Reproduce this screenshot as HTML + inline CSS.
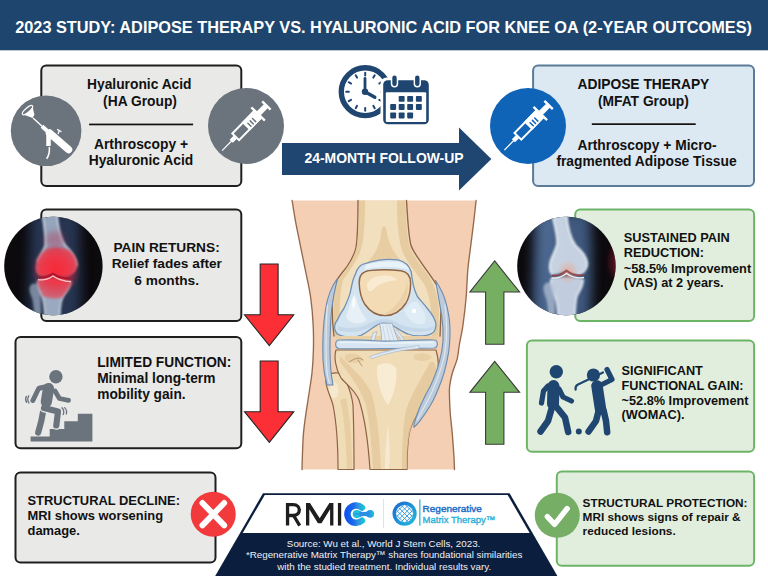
<!DOCTYPE html>
<html><head><meta charset="utf-8">
<style>
html,body{margin:0;padding:0;background:#fff;}
body{width:768px;height:576px;overflow:hidden;position:relative;}
svg{display:block;}
text{font-family:"Liberation Sans",sans-serif;}
.b{font-weight:bold;fill:#111;}
</style></head>
<body>
<svg width="768" height="576" viewBox="0 0 768 576">
<defs>
<clipPath id="cl1"><circle cx="53.4" cy="266" r="49.2"/></clipPath>
<clipPath id="cl2"><circle cx="566.4" cy="266" r="49.2"/></clipPath>
<filter id="bl1" x="-50%" y="-50%" width="200%" height="200%"><feGaussianBlur stdDeviation="1.2"/></filter>
<filter id="bl3" x="-50%" y="-50%" width="200%" height="200%"><feGaussianBlur stdDeviation="3"/></filter>
<filter id="bl6" x="-50%" y="-50%" width="200%" height="200%"><feGaussianBlur stdDeviation="6"/></filter>
<radialGradient id="redglow" cx="0.5" cy="0.5" r="0.5">
<stop offset="0" stop-color="#ff1a2a" stop-opacity="1"/>
<stop offset="0.55" stop-color="#f0283a" stop-opacity="0.75"/>
<stop offset="1" stop-color="#c02040" stop-opacity="0"/>
</radialGradient>
<radialGradient id="orglow" cx="0.5" cy="0.5" r="0.5">
<stop offset="0" stop-color="#f0a080" stop-opacity="0.7"/>
<stop offset="1" stop-color="#f0a080" stop-opacity="0"/>
</radialGradient>
<linearGradient id="cgrad" x1="0" y1="0" x2="1" y2="1">
<stop offset="0" stop-color="#0b57e8"/>
<stop offset="1" stop-color="#3aa6e0"/>
</linearGradient>
<linearGradient id="rgrad" x1="0" y1="0" x2="1" y2="1">
<stop offset="0" stop-color="#1b63d4"/>
<stop offset="1" stop-color="#22c0dc"/>
</linearGradient>
<linearGradient id="cring" gradientUnits="userSpaceOnUse" x1="344" y1="0" x2="368" y2="0">
<stop offset="0" stop-color="#0a4ff0"/><stop offset="0.4" stop-color="#1d6ae8"/><stop offset="0.62" stop-color="#2f9ae0"/><stop offset="0.8" stop-color="#18c0d8"/><stop offset="1" stop-color="#16c6d6"/>
</linearGradient>
<linearGradient id="cdot" x1="0" y1="0" x2="1" y2="0"><stop offset="0" stop-color="#2a80e6"/><stop offset="1" stop-color="#1cc2d8"/></linearGradient>
</defs>
<!-- header -->
<rect x="0" y="0" width="768" height="50.3" fill="#1e456d"/>
<text x="15.2" y="33.3" font-size="16.31" font-weight="bold" fill="#fff">2023 STUDY: ADIPOSE THERAPY VS. HYALURONIC ACID FOR KNEE OA (2-YEAR OUTCOMES)</text>

<!-- top-left box -->
<rect x="41.3" y="65.5" width="200" height="120.4" rx="5" fill="#e9e9e8" stroke="#1f1f1f" stroke-width="2"/>
<g class="b" font-size="13.8" text-anchor="middle">
<text x="139.3" y="89">Hyaluronic Acid</text>
<text x="140" y="105.6">(HA Group)</text>
<text x="141" y="149.4">Arthroscopy +</text>
<text x="141" y="165">Hyaluronic Acid</text>
</g>
<rect x="89.1" y="123.6" width="104" height="1.7" fill="#111"/>

<!-- top-right box -->
<rect x="533.1" y="65.5" width="220.9" height="120.4" rx="5" fill="#dce8f2" stroke="#5b7b99" stroke-width="2"/>
<g class="b" font-size="13.8" text-anchor="middle">
<text x="643.4" y="89">ADIPOSE THERAPY</text>
<text x="643.4" y="105.6">(MFAT Group)</text>
<text x="647" y="149.6">Arthroscopy + Micro-</text>
<text x="646.5" y="165.7">fragmented Adipose Tissue</text>
</g>
<rect x="591.8" y="123.3" width="103.9" height="1.7" fill="#111"/>

<!-- gray circles -->
<circle cx="46.1" cy="130.8" r="35.3" fill="#6b737c"/>
<circle cx="246" cy="126" r="38" fill="#6b737c"/>
<circle cx="528" cy="126" r="38" fill="#0f64b8"/>


<!-- arthroscope -->
<g fill="#fff" stroke="#fff">
<path d="M22.6,114.2 L32.6,118 L34.4,114.8 L32.4,106 Z" stroke="none"/>
<ellipse cx="27.5" cy="110.1" rx="6.6" ry="2.1" transform="rotate(-41 27.5 110.1)" fill="#6b737c" stroke-width="1.2"/>
<line x1="33" y1="118" x2="43.5" y2="127.5" stroke-width="1.4"/>
<line x1="42" y1="126.2" x2="47" y2="130.8" stroke-width="4"/>
<line x1="49.5" y1="133" x2="68.5" y2="149.5" stroke-width="7.5" stroke-linecap="round"/>
<path d="M48.5,133 L48.5,146" stroke-width="4.5" fill="none"/>
<path d="M49.3,147 C49.8,152 48.6,156 46.6,158.8" stroke-width="1.5" fill="none"/>
<path d="M57.2,129.4 L61.5,131.8 M59.3,130.6 L58,134" stroke-width="1.3" fill="none"/>
</g>

<!-- syringe gray -->
<g transform="translate(222.1 150.6) rotate(-45.5)">
<g fill="#fff" stroke="none">
<rect x="0" y="-0.6" width="13.5" height="1.2"/>
<rect x="13" y="-2.2" width="5.6" height="4.4"/>
<rect x="19.4" y="-4.75" width="31" height="9.5" fill="none" stroke="#fff" stroke-width="2"/>
<rect x="33.8" y="-5.75" width="17.4" height="11.5"/>
<rect x="50.2" y="-9.5" width="2.3" height="19"/>
<rect x="52" y="-2.7" width="10.5" height="5.4"/>
<rect x="62" y="-5.9" width="2.4" height="11.8"/>
</g>
<g stroke="#6b737c" stroke-width="1.5" stroke-linecap="round"><line x1="37.6" y1="-0.8" x2="37.6" y2="3.6"/><line x1="40.9" y1="-0.8" x2="40.9" y2="3.6"/><line x1="44.2" y1="-0.8" x2="44.2" y2="3.6"/></g>
</g>
<!-- syringe blue -->
<g transform="translate(504.3 150.1) rotate(-45.5)">
<g fill="#fff" stroke="none">
<rect x="0" y="-0.6" width="13.5" height="1.2"/>
<rect x="13" y="-2.2" width="5.6" height="4.4"/>
<rect x="19.4" y="-4.75" width="31" height="9.5" fill="none" stroke="#fff" stroke-width="2"/>
<rect x="33.8" y="-5.75" width="17.4" height="11.5"/>
<rect x="50.2" y="-9.5" width="2.3" height="19"/>
<rect x="52" y="-2.7" width="10.5" height="5.4"/>
<rect x="62" y="-5.9" width="2.4" height="11.8"/>
</g>
<g stroke="#0f64b8" stroke-width="1.5" stroke-linecap="round"><line x1="37.6" y1="-0.8" x2="37.6" y2="3.6"/><line x1="40.9" y1="-0.8" x2="40.9" y2="3.6"/><line x1="44.2" y1="-0.8" x2="44.2" y2="3.6"/></g>
</g>

<!-- clock -->
<g>
<circle cx="365.2" cy="91.7" r="23.9" fill="none" stroke="#1f4670" stroke-width="5.4"/>
<g stroke="#1f4670" stroke-width="2" stroke-linecap="round">
<g transform="translate(365.2 91.7)">
<line x1="0" y1="-16.3" x2="0" y2="-19"/>
<line x1="0" y1="-16.3" x2="0" y2="-19" transform="rotate(30)"/>
<line x1="0" y1="-16.3" x2="0" y2="-19" transform="rotate(60)"/>
<line x1="0" y1="-16.3" x2="0" y2="-19" transform="rotate(90)"/>
<line x1="0" y1="-16.3" x2="0" y2="-19" transform="rotate(120)"/>
<line x1="0" y1="-16.3" x2="0" y2="-19" transform="rotate(150)"/>
<line x1="0" y1="-16.3" x2="0" y2="-19" transform="rotate(180)"/>
<line x1="0" y1="-16.3" x2="0" y2="-19" transform="rotate(210)"/>
<line x1="0" y1="-16.3" x2="0" y2="-19" transform="rotate(240)"/>
<line x1="0" y1="-16.3" x2="0" y2="-19" transform="rotate(270)"/>
<line x1="0" y1="-16.3" x2="0" y2="-19" transform="rotate(300)"/>
<line x1="0" y1="-16.3" x2="0" y2="-19" transform="rotate(330)"/>
</g>
<line x1="365" y1="91.7" x2="365" y2="78.5" stroke-width="2.8"/>
<line x1="365" y1="91.7" x2="374.8" y2="97.3" stroke-width="3.4"/>
</g>
<circle cx="365" cy="91.7" r="3.2" fill="#1f4670"/>
</g>
<!-- calendar -->
<g>
<rect x="380.5" y="77.5" width="51" height="49.5" rx="6" fill="#fff"/>
<rect x="383.2" y="80.2" width="45.6" height="44" rx="4.5" fill="#1f4670"/>
<rect x="385.8" y="92.2" width="40.4" height="29.7" rx="1" fill="#fff"/>
<rect x="390.8" y="73.5" width="7.4" height="14" rx="3.7" fill="#fff"/>
<rect x="413.6" y="73.5" width="7.4" height="14" rx="3.7" fill="#fff"/>
<rect x="392.3" y="75.5" width="4.4" height="10.5" rx="2.2" fill="#1f4670"/>
<rect x="415.1" y="75.5" width="4.4" height="10.5" rx="2.2" fill="#1f4670"/>
<g fill="#1f4670">
<rect x="398.7" y="95.9" width="5.9" height="5.9" rx="0.8"/><rect x="407.2" y="95.9" width="5.9" height="5.9" rx="0.8"/><rect x="415.9" y="95.9" width="5.9" height="5.9" rx="0.8"/>
<rect x="390.2" y="104" width="5.9" height="5.9" rx="0.8"/><rect x="398.7" y="104" width="5.9" height="5.9" rx="0.8"/><rect x="407.2" y="104" width="5.9" height="5.9" rx="0.8"/><rect x="415.9" y="104" width="5.9" height="5.9" rx="0.8"/>
<rect x="390.2" y="112.5" width="5.9" height="5.9" rx="0.8"/><rect x="398.7" y="112.5" width="5.9" height="5.9" rx="0.8"/><rect x="407.2" y="112.5" width="5.9" height="5.9" rx="0.8"/>
</g>
</g>

<!-- follow up arrow -->
<path d="M282,143 L459,143 L459,127.4 L491.4,159 L459,190.4 L459,175 L282,175 Z" fill="#1f4670"/>
<text x="384" y="162.6" font-size="13.95" font-weight="bold" fill="#fff" text-anchor="middle">24-MONTH FOLLOW-UP</text>

<!-- pain box -->
<rect x="41.3" y="209.6" width="200" height="111.5" rx="5" fill="#e9e9e8" stroke="#1f1f1f" stroke-width="2"/>
<g class="b" font-size="13.7" text-anchor="middle">
<text x="166.6" y="252">PAIN RETURNS:</text>
<text x="166.8" y="268.4">Relief fades after</text>
<text x="166.7" y="284.7">6 months.</text>
</g>


<!-- xray left -->
<g clip-path="url(#cl1)">
<rect x="0" y="212" width="110" height="110" fill="#0c0a0d"/>
<path d="M30,212 L79,212 C80,240 82,280 80,322 L28,322 C27,290 31,250 30,212 Z" fill="#33456a" opacity="0.75" filter="url(#bl6)"/>
<g filter="url(#bl1)">
<path d="M42,212 L57,212 C58,228 60,238 66,246 C72,252 77,258 77,266 C76,272 72,275 66,276 C60,276.5 56,274 53,273.5 C49,274 44,276 40,275.5 C36,274 35,268 37,262 C39,256 43,252 45,246 C46,236 44,225 42,212 Z" fill="#a8b8cf" opacity="0.85"/>
<path d="M42,212 C44,225 46,236 45,246 C43,252 39,256 37,262 M57,212 C58,228 60,238 66,246 C72,252 77,258 77,266" fill="none" stroke="#eef4fb" stroke-width="1.6" opacity="0.8"/>
<path d="M38,280 C46,278 60,278 71,281 C71,287 66,292 63,297 C60,303 60,310 60,322 L45,322 C45,310 44,302 42,296 C39,290 37,285 38,280 Z" fill="#aebdd2" opacity="0.85"/>
<path d="M38,280 C37,285 39,290 42,296 C44,302 45,310 45,322 M71,281 C71,287 66,292 63,297 C60,303 60,310 60,322" fill="none" stroke="#eef4fb" stroke-width="1.5" opacity="0.75"/>
<path d="M29.5,290 C29,285 33,282.5 37,284 C40,286 40.5,292 40.5,298 C41,306 41,314 41,322 L34.5,322 C34.5,312 33.5,304 32,298 C30.5,295 29.7,292.5 29.5,290 Z" fill="#9cacc2" opacity="0.7"/>
</g>
<ellipse cx="56" cy="270" rx="25" ry="26" fill="url(#redglow)" opacity="0.85"/>
<path d="M37,262 C39,256 43,252 47,249 C55,247 64,247 70,251 C75,255 77,260 77,266 C76,272 72,275 66,276 C60,276.5 56,274 53,273.5 C49,274 44,276 40,275.5 C36,274 35,268 37,262 Z" fill="#ff2636" opacity="0.6" filter="url(#bl1)"/>
<path d="M38,280 C46,278 60,278 71,281 C71,287 66,292 63,297 C58,299 50,299 43,296 C40,290 37,285 38,280 Z" fill="#ff2636" opacity="0.55" filter="url(#bl1)"/>
<ellipse cx="55" cy="240" rx="10" ry="9" fill="#b82848" opacity="0.35" filter="url(#bl3)"/>
<path d="M39,277 Q46,278.5 53,273.5 Q60,278.5 71,279" fill="none" stroke="#a8102a" stroke-width="1.6" opacity="0.85"/>
<path d="M38,279.6 Q46,281 53,276 Q60,281 71,281.6" fill="none" stroke="#ffd6d6" stroke-width="1.4" opacity="0.9"/>
</g>
<!-- limited box -->
<rect x="15.5" y="337" width="225.8" height="111.3" rx="5" fill="#e9e9e8" stroke="#1f1f1f" stroke-width="2"/>
<g class="b" font-size="13.72">
<text x="97.2" y="367.2">LIMITED FUNCTION:</text>
<text x="97.2" y="382.8">Minimal long-term</text>
<text x="97.2" y="398.8">mobility gain.</text>
</g>


<!-- stairs person -->
<g fill="#6b737c">
<path d="M30.6,441.5 L30.6,436.6 L49.7,436.6 L49.7,429 L64.3,429 L64.3,421.3 L77.8,421.3 L77.8,413.7 L92.4,413.7 L92.4,441.5 Z"/>
<circle cx="55.9" cy="376.8" r="6.7"/>
</g>
<g stroke-linecap="round" stroke-linejoin="round" fill="none">
<path d="M43,412 L41.3,421 L38.2,432.5" stroke="#6b737c" stroke-width="6.2"/>
<path d="M44,408 L58,411.5 L56.3,425.5" stroke="#e9e9e9" stroke-width="8.6"/>
<path d="M47.5,388.5 L46.8,396 L46,402" stroke="#e9e9e9" stroke-width="13.6"/>
<path d="M38.5,388.8 L32.8,400.6" stroke="#6b737c" stroke-width="4.8"/>
<path d="M55,391 L59.4,398.5 L68.5,400.3" stroke="#6b737c" stroke-width="4.8"/>
<path d="M44,408 L58,411.5 L56.3,425.5" stroke="#6b737c" stroke-width="6.2"/>
<path d="M48.5,388.5 L47.3,396 L46.3,402" stroke="#6b737c" stroke-width="11.2"/>
<path d="M40,388 L50,386" stroke="#6b737c" stroke-width="5"/>
<path d="M28.8,395.8 Q26.6,399.4 29,403 M26.4,396.4 Q24.6,399.4 26.6,402.4" stroke="#6b737c" stroke-width="1.3"/>
<path d="M62,407.8 Q64.8,410.8 63.2,414.6 M64.6,407.6 Q67.6,410.6 66.2,414" stroke="#6b737c" stroke-width="1.3"/>
</g>

<!-- structural decline -->
<rect x="15.5" y="472.4" width="200" height="90.1" rx="5" fill="#e9e9e8" stroke="#1f1f1f" stroke-width="2"/>
<g class="b" font-size="12.92">
<text x="27.5" y="504.9">STRUCTURAL DECLINE:</text>
<text x="27.5" y="520.4">MRI shows worsening</text>
<text x="27.5" y="535">damage.</text>
</g>
<circle cx="213.25" cy="514.2" r="22.5" fill="#f23a3c"/>
<path d="M202.4,503 L224.2,525.4 M224.2,503 L202.4,525.4" stroke="#fff" stroke-width="5.9" stroke-linecap="round"/>

<!-- sustained -->
<rect x="575.2" y="209.6" width="178.9" height="111.5" rx="5" fill="#e2eedd" stroke="#6cb466" stroke-width="2"/>
<g class="b" font-size="12.78">
<text x="623.8" y="242.3">SUSTAINED PAIN</text>
<text x="623.8" y="257">REDUCTION:</text>
<text x="623.8" y="272.8">~58.5% Improvement</text>
<text x="623.8" y="287.4">(VAS) at 2 years.</text>
</g>


<!-- xray right -->
<g clip-path="url(#cl2)">
<rect x="515" y="212" width="110" height="110" fill="#0c0a0d"/>
<path d="M534,212 L590,212 C592,240 593,280 590,322 L533,322 C531,290 535,250 534,212 Z" fill="#4a6894" opacity="0.85" filter="url(#bl6)"/>
<path d="M540,212 L556,212 C555,240 552,270 550,322 L540,322 Z" fill="#5f7fa8" opacity="0.5" filter="url(#bl6)"/>
<ellipse cx="616" cy="262" rx="6" ry="15" fill="#6a1428" opacity="0.8" filter="url(#bl3)"/>
<g filter="url(#bl1)">
<path d="M551.5,212 L566.5,212 C567.5,228 570,238 576,246 C582,251 587,257 587.5,264 C587,270 583,274 577,274.5 C572,274.5 569,272 566.5,270 C563,272 558,275 553,274.5 C549.5,273 549,267 550.5,261 C552.5,254 556,250 557,244 C557.5,234 554,224 551.5,212 Z" fill="#d0dae8" opacity="0.93"/>
<path d="M551.5,212 C554,224 557.5,234 557,244 C556,250 552.5,254 550.5,261 C549,267 549.5,273 553,274.5 M566.5,212 C567.5,228 570,238 576,246 C582,251 587,257 587.5,264 C587,270 583,274 577,274.5" fill="none" stroke="#f6f9fd" stroke-width="1.7" opacity="0.9"/>
<path d="M551,278.5 C560,276.5 574,276.5 583,279 C584,285 580,290 577,296 C575,303 575,310 575,322 L558,322 C558,310 557,302 555,296 C552,290 550,285 551,278.5 Z" fill="#ccd7e6" opacity="0.92"/>
<path d="M551,278.5 C550,285 552,290 555,296 C557,302 558,310 558,322 M583,279 C584,285 580,290 577,296 C575,303 575,310 575,322" fill="none" stroke="#f6f9fd" stroke-width="1.6" opacity="0.85"/>
<path d="M543.5,289 C543,284 547,281.5 551,283 C554,285 554.5,291 554.5,297 C555,305 555,313 555,322 L548.5,322 C548.5,312 547.5,304 546,298 C544.5,295 543.7,292 543.5,289 Z" fill="#b0bed2" opacity="0.75"/>
</g>
<ellipse cx="568" cy="272" rx="11" ry="12" fill="url(#orglow)"/>
<path d="M552,275.5 Q559,276.5 566.5,270.5 Q574,276.5 584,275" fill="none" stroke="#9a3a3a" stroke-width="1.6" opacity="0.95"/>
<path d="M551.5,278 Q559,279 566.5,273.5 Q574,279 584,277.5" fill="none" stroke="#ffffff" stroke-width="1.3" opacity="0.9"/>
</g>
<!-- functional -->
<rect x="526.9" y="340.6" width="227.2" height="111.2" rx="5" fill="#e2eedd" stroke="#6cb466" stroke-width="2"/>
<g class="b" font-size="12.72">
<text x="621.6" y="374.8">SIGNIFICANT</text>
<text x="621.6" y="389.6">FUNCTIONAL GAIN:</text>
<text x="621.6" y="404.7">~52.8% Improvement</text>
<text x="621.6" y="419.4">(WOMAC).</text>
</g>

<!-- walker & golfer -->
<g fill="#1f4670">
<circle cx="556.3" cy="371.8" r="6.7"/>
<circle cx="593.4" cy="375" r="6.6"/>
<circle cx="578.8" cy="431.5" r="3"/>
</g>
<g stroke="#1f4670" stroke-linecap="round" stroke-linejoin="round" fill="none">
<path d="M553.5,386 L553,404" stroke-width="12"/>
<path d="M548,386 L543.5,391 L541.5,403" stroke-width="5.2"/>
<path d="M559,389 L563,397 L571.5,401" stroke-width="5.2"/>
<path d="M551.5,409 L548,421 L540.5,431.5" stroke-width="6.5"/>
<path d="M556.5,407 L565,417.5 L568.2,432" stroke-width="6.5"/>
<path d="M597,386 L600.5,409" stroke-width="11.5"/>
<path d="M601,385 L612,379.5 L607,369.5" stroke-width="5.2"/>
<path d="M603,372.5 L578,384.5 Q575,386 575.6,389.6" stroke-width="2.2"/>
<path d="M598.8,410 L596,421 L588.6,431.5" stroke-width="6.5"/>
<path d="M603.5,410 L606,421 L607.2,432.2" stroke-width="6.5"/>
</g>

<!-- structural protection -->
<rect x="556.8" y="471.5" width="197.3" height="94.3" rx="5" fill="#e2eedd" stroke="#6cb466" stroke-width="2"/>
<g class="b" font-size="11.8">
<text x="582.6" y="507">STRUCTURAL PROTECTION:</text>
<text x="582.6" y="521.3">MRI shows signs of repair &amp;</text>
<text x="582.6" y="534.9">reduced lesions.</text>
</g>
<circle cx="557.25" cy="515.25" r="22.5" fill="#76ae66"/>
<path d="M547.3,516.6 L554.6,524.4 L567.2,508.5" fill="none" stroke="#fff" stroke-width="5.4" stroke-linecap="round" stroke-linejoin="round"/>

<!-- knee -->
<g id="knee" stroke-linejoin="round" stroke-linecap="round">
<path d="M292.1,200.5 C292.7,204.2 294.2,214.5 295.8,222.8 C297.4,231.2 299.7,242.0 301.4,250.6 C303.1,259.2 304.6,266.3 306.2,274.2 C307.8,282.1 309.5,289.2 310.7,297.8 C311.9,306.4 312.8,316.9 313.2,325.6 C313.6,334.3 313.6,342.1 313.4,350.0 C313.2,357.9 312.9,364.4 312.0,372.8 C311.1,381.2 308.9,393.7 307.9,400.6 C306.9,407.5 306.5,409.0 305.8,414.4 C305.1,419.8 304.1,426.0 303.5,432.9 C302.9,439.8 302.6,449.7 302.4,455.8 C302.1,461.9 302.1,467.2 302.0,469.5 L454.5,469.5 C454.4,467.2 454.3,461.9 453.9,455.8 C453.5,449.7 452.8,439.9 452.2,432.9 C451.6,425.9 450.7,419.4 450.3,414.0 C449.9,408.6 449.7,405.2 449.6,400.6 C449.5,396.1 449.1,391.3 449.6,386.7 C450.1,382.1 451.1,377.4 452.4,372.8 C453.7,368.2 456.0,363.5 457.2,358.9 C458.4,354.3 458.4,350.6 459.3,345.0 C460.2,339.4 461.8,333.5 462.9,325.6 C464.0,317.7 465.3,307.1 466.1,297.8 C466.9,288.5 467.1,277.9 467.8,270.0 C468.5,262.1 469.1,258.5 470.1,250.6 C471.1,242.7 472.6,231.2 473.6,222.8 C474.6,214.5 475.7,204.2 476.1,200.5 Z" fill="#f4cfb3"/>
<path d="M292.1,200.5 C292.7,204.2 294.2,214.5 295.8,222.8 C297.4,231.2 299.7,242.0 301.4,250.6 C303.1,259.2 304.6,266.3 306.2,274.2 C307.8,282.1 309.5,289.2 310.7,297.8 C311.9,306.4 312.8,316.9 313.2,325.6 C313.6,334.3 313.6,342.1 313.4,350.0 C313.2,357.9 312.9,364.4 312.0,372.8 C311.1,381.2 308.9,393.7 307.9,400.6 C306.9,407.5 306.5,409.0 305.8,414.4 C305.1,419.8 304.1,426.0 303.5,432.9 C302.9,439.8 302.6,449.7 302.4,455.8 C302.1,461.9 302.1,467.2 302.0,469.5" fill="none" stroke="#96694d" stroke-width="1.35"/>
<path d="M454.5,469.5 C454.4,467.2 454.3,461.9 453.9,455.8 C453.5,449.7 452.8,439.9 452.2,432.9 C451.6,425.9 450.7,419.4 450.3,414.0 C449.9,408.6 449.7,405.2 449.6,400.6 C449.5,396.1 449.1,391.3 449.6,386.7 C450.1,382.1 451.1,377.4 452.4,372.8 C453.7,368.2 456.0,363.5 457.2,358.9 C458.4,354.3 458.4,350.6 459.3,345.0 C460.2,339.4 461.8,333.5 462.9,325.6 C464.0,317.7 465.3,307.1 466.1,297.8 C466.9,288.5 467.1,277.9 467.8,270.0 C468.5,262.1 469.1,258.5 470.1,250.6 C471.1,242.7 472.6,231.2 473.6,222.8 C474.6,214.5 475.7,204.2 476.1,200.5" fill="none" stroke="#96694d" stroke-width="1.35"/>
<!-- fibula -->
<path d="M326,383 C325,376 330,372 338,373 C345,376 351,390 353,405 C354,430 354,450 354,469.5 L338,469.5 C338,445 337,425 333,405 C330,395 327,390 326,383 Z" fill="#f1dcb8" stroke="#8d6446" stroke-width="1.2"/>
<path d="M340,400 C344,415 346,440 347,469 L352,469 C352,440 350,415 346,398 Z" fill="#e4c79a" opacity="0.7"/>
<ellipse cx="334" cy="390" rx="4.5" ry="8" fill="#f9ecd6" opacity="0.8"/>
<!-- tibia -->
<path d="M336,350 C334,356 335,368 341,378 C348,386 355,390 359,400 C364,415 368,440 370,469.5 L407,469.5 C407,450 408,438 410,430 C413,420 418,412 423,403 C428,394 434,386 437,376 C439,368 439,360 436,350 Z" fill="#f1dcb8" stroke="#8d6446" stroke-width="1.2"/>
<path d="M340,362 C350,375 360,388 366,405 C370,425 372,450 373,469 L381,469 C380,440 377,410 371,392 C364,378 352,368 340,356 Z" fill="#e4c79a" opacity="0.75"/>
<path d="M430,362 C422,378 412,392 406,410 C403,425 402,445 402,469 L407,469 C407,445 409,430 414,420 C420,408 428,396 434,384 C437,376 437,368 434,362 Z" fill="#e4c79a" opacity="0.8"/>
<path d="M345,355 C352,352 360,354 364,360 C358,364 350,364 345,360 Z" fill="#e4c79a" opacity="0.6"/>
<path d="M414,355 C420,352 428,353 432,357 C428,362 420,362 414,359 Z" fill="#e4c79a" opacity="0.6"/>
<path d="M377,366 C383,362 392,362 396,368 C398,380 394,395 388,405 C382,398 376,380 377,366 Z" fill="#f9ecd6" opacity="0.95"/>
<path d="M388,425 C390,440 390,460 389,469 L385,469 C385,455 386,440 388,425 Z" fill="#f9ecd6" opacity="0.8"/>
<path d="M349,362 C355,359 358,356 363,360 M358,360 L362,366" fill="none" stroke="#a88660" stroke-width="0.8"/>
<!-- femur -->
<path d="M358,200.5 L406.5,200.5 C407.5,215 408,232 410.6,244 C412,250 416,255 421.7,263.3 C427,271 432,277 436.9,285.6 C440,292 441,300 441,310 L440,336 L334,336 C332,320 332,300 333.2,287 C336,280 340,275 346.4,267.5 C350,262 353.3,258 356,248 C357.5,238 358,225 358,200.5 Z" fill="#f2dfbe"/>
<path d="M358,200.5 C358,225 357.5,238 356,248 C353.3,258 350,262 346.4,267.5 C340,275 336,280 333.2,287 C332,300 332,320 334,336" fill="none" stroke="#8d6446" stroke-width="1.35"/>
<path d="M406.5,200.5 C407.5,215 408,232 410.6,244 C412,250 416,255 421.7,263.3 C427,271 432,277 436.9,285.6 C440,292 441,300 441,310 L440,336" fill="none" stroke="#8d6446" stroke-width="1.35"/>
<path d="M359,200.5 L365,200.5 C365,225 364,242 360,252 C356,262 350,270 343,280 C340,290 339,310 340,336 L335,336 C333,315 333,295 334,287 C338,280 344,272 348,266 C353,259 356,252 357.5,242 C358.5,230 359,215 359,200.5 Z" fill="#e4c79a" opacity="0.8"/>
<path d="M397,200.5 L405.5,200.5 C406,220 407,235 409.5,246 C413,256 420,264 428,275 C434,284 438,295 439,310 L438.5,336 L432,336 C432,310 430,295 424,284 C416,272 406,262 402,250 C398,238 397,220 397,200.5 Z" fill="#e4c79a" opacity="0.8"/>
<path d="M381.5,230 C380.5,242 377,252 368,262 L402,262 C393,252 388,242 386.5,230 C385.8,225 382.2,225 381.5,230 Z" fill="#e4c79a" opacity="0.75"/>
<!-- cartilage -->
<path d="M398,259.9 C405,261.5 409,265 411.25,272 C412,280 413,288 417.5,296.7 C421,301 424,304 427,308 C432,314 436,320 436,325 C436,331 432,334.5 426.6,335.3 C420,336.5 414,336.5 408,334 C402,332 396,327 390.6,324.4 C387,322.5 381,322.5 378,324.4 C373,327 368,332 361,335.3 C356,337 350,337.5 346.9,336.9 C341,336 337,334.5 336,332.2 C334,329 334,324 337.5,319.7 C340,314 342,311 343.75,308.75 C347,302 349.5,297 350.8,290 C352,284 353,278 355.4,274.4 C357,268 361,264 365.8,263.3 C376,260 388,258.5 398,259.9 Z" fill="#d3e3f0" stroke="#7392b4" stroke-width="1.35"/>
<path d="M338,330 C348,334 362,332 374,326 C380,323 388,323 394,326 C404,331 420,335 434,329 L435,326 C422,331 406,328 396,322 C389,318 380,318 372,322 C362,328 348,330 338,326 Z" fill="#b9cfe3" opacity="0.55"/>
<path d="M346,318 C349,306 352,298 355,294 C357,302 360,312 367,320 C360,325 352,325 346,318 Z" fill="#eef4fa" opacity="0.75"/>
<path d="M353.5,296 C352,300 351.5,305 353,309 C355.5,306 356,300 353.5,296 Z" fill="#fafcfe"/>
<path d="M404,311 C410,302 414,300 418,303 C424,310 428,318 424,324 C416,326 408,320 404,311 Z" fill="#e6eff8" opacity="0.7"/>
<circle cx="414" cy="311" r="2.2" fill="#fbfdff"/>
<path d="M366,264.5 C376,262 390,261 398,262 C404,263 408,266 409.5,270 C404,268 396,267 386,267 C376,267 370,268 364,270 Z" fill="#eef5fb" opacity="0.8"/>
<!-- patella -->
<path d="M359.2,283 C359,276 362.5,271.5 369,270.6 C378,269.6 392,269.6 401,270.8 C407,271.8 410.6,276 410.6,283 C410.6,290 409.5,297 406,303 C401.5,310 394,315.6 385,315.6 C376.5,315.6 369.5,311 365,304.5 C361,298.5 359.4,291 359.2,283 Z" fill="#f2dbb5" stroke="#8d6446" stroke-width="1.45"/>
<path d="M367,285 C368,279 375,275.5 384,275.5 C391,275.5 396,277.5 397,280.5 C389,280.5 379,283 373,290 C370,293 367,291 367,285 Z" fill="#f9ebd4" opacity="0.95"/>
<path d="M401,298 C405,292 407,286 406.5,280 C409,290 407,300 401,307 C395,313 389,314.5 384,313.5 C391,311 397,305 401,298 Z" fill="#e4c79a" opacity="0.55"/>
<!-- tan gap strip -->
<path d="M336,336 L438,336 L438,341 L336,341 Z" fill="#e8cfa6"/>
<!-- cruciate -->
<path d="M373,333 C372,337 371,340 370,342 L374,342 C375,338 376,335 377,332 Z" fill="#dfe9f3" stroke="#94abc3" stroke-width="0.6"/>
<path d="M395,332 C398,335 400,338 402,342 L405,342 C403,337 400,334 397,330 Z" fill="#dfe9f3" stroke="#94abc3" stroke-width="0.6"/>
<path d="M379.7,323.6 C381,330 382,337 381,345 L400,345 C397,338 394,330 392.2,323.6 Z" fill="#e2ebf4" stroke="#94abc3" stroke-width="0.8"/>
<path d="M383,326 L386,344 M386.5,325 L390.5,344 M389.5,325 L395,344" stroke="#b7c9db" stroke-width="0.6" fill="none"/>
<!-- meniscus -->
<path d="M339,340 C352,339.5 366,340 380,341 C396,341.5 416,339.5 434,340 C438.5,340.5 438.5,347.5 434,348 C416,348.5 398,348 384,348.5 C368,349 352,349 339,348.6 C334.5,348 334.5,340.5 339,340 Z" fill="#d6e5f1" stroke="#7392b4" stroke-width="1.2"/>
<path d="M340,342.5 C360,342 380,343.5 400,343 C415,342.5 425,342.3 433,342.5" fill="none" stroke="#eef5fb" stroke-width="1.4" opacity="0.9"/>
<path d="M370.3,356.4 C382,352 396,348 418.75,345.5 L419,348.5 C400,350 386,353.5 372,358.5 Z" fill="#e6eef6" stroke="#9ab0c6" stroke-width="0.6"/>
<path d="M376,355 C388,351 400,349 415,347.2" fill="none" stroke="#b7c9db" stroke-width="0.5"/>
<!-- collateral ligaments -->
<path d="M337.5,278.5 C331,287 327.5,296 325.4,310 C323,325 322.5,345 323,360 C323.5,370 325,378 327,385 L333,385 C331,375 330,365 330,350 C330,335 330.5,320 331.8,308 C333,298 335,288 337.5,278.5 Z" fill="#bccbdb" stroke="#6c8aaa" stroke-width="1.1"/>
<path d="M327.5,305 C326,320 325.8,340 326.2,360 C326.5,370 327.5,378 329.5,383" fill="none" stroke="#e8f0f7" stroke-width="1.1" opacity="0.85"/>
<path d="M435.5,280.5 C440.5,288 444,295 445.8,302.2 C448.5,312 450,321 450,330 C450,338 449.8,345 448.6,352.2 C447,362 445,371 441.7,380 C438,390 435,398 430.6,405 C427,411 423,417 419.4,421.7 C417.5,424 415.5,426 413.9,427.2 L413.9,424.4 C416,418 418,411 420.8,405 C424,398 427,392 430.6,385.6 C434,378 437,371 438.9,363.3 C441,356 442.5,348 443,341 C443.5,332 443,324 441.7,316 C440,306 438,293 435.5,280.5 Z" fill="#bccbdb" stroke="#6c8aaa" stroke-width="1.1"/>
<path d="M445,305 C447,320 447.5,335 445,352 C443,365 438,378 432,392 C428,400 423,410 417,420" fill="none" stroke="#e8f0f7" stroke-width="1.1" opacity="0.8"/>
</g>

<!-- red arrows -->
<path d="M260.2,264 L278.1,264 L278.1,314.8 L293.8,314.8 L269.3,345.6 L244.5,314.8 L260.2,314.8 Z" fill="#fb2f35" stroke="#262626" stroke-width="1.1"/>
<path d="M260.2,361 L278.1,361 L278.1,411.7 L293.8,411.7 L269.3,442.4 L244.5,411.7 L260.2,411.7 Z" fill="#fb2f35" stroke="#262626" stroke-width="1.1"/>

<!-- green arrows -->
<path d="M485.6,344.2 L503.9,344.2 L503.9,292 L519.6,292 L494.7,261 L469.9,292 L485.6,292 Z" fill="#77af62" stroke="#3a3a3a" stroke-width="1.1"/>
<path d="M485.6,444.2 L503.9,444.2 L503.9,392.3 L519.6,392.3 L494.7,361.3 L469.9,392.3 L485.6,392.3 Z" fill="#77af62" stroke="#3a3a3a" stroke-width="1.1"/>

<!-- bottom panel -->
<path d="M263,493.3 L509.6,493.3 L557.4,576 L215.2,576 Z" fill="#0c1e3e"/>
<path d="M264.8,494.9 L507.6,494.9 L529.7,533 L242.7,533 Z" fill="#fff"/>
<!-- RMI logo -->
<g fill="none" stroke="#1e1e1e" stroke-width="3.3">
<path d="M287.55,525.6 V504.7 H293.2 C297.4,504.7 299.3,507.2 299.3,510.1 C299.3,513 297.4,515.5 293.2,515.5 H287.55 M293.6,515.5 L299.7,525.6"/>
<path d="M306,525.6 L306,503 L310,503 L319.7,518.3 L329.4,503 L333.4,503 L333.4,525.6 L330.1,525.6 L330.1,509.3 L321.5,523.2 L317.9,523.2 L309.3,509.3 L309.3,525.6 Z" fill="#1e1e1e" stroke="none"/>
<path d="M339.55,503 V525.6"/>
</g>
<path d="M361.9,507.6 A8.7,8.7 0 1 0 361.9,520.6" fill="none" stroke="url(#cring)" stroke-width="6.5" stroke-linecap="round"/>
<circle cx="356.8" cy="514.1" r="4.1" fill="#1cc0d8"/>
<circle cx="370.3" cy="513.9" r="3.8" fill="url(#cdot)"/>
<path d="M359.5,511 Q364.5,513.2 368.5,510.8 L368.5,517 Q364.5,514.8 359.5,517.2 Z" fill="#2a8ee4"/>
<rect x="354" y="513.2" width="6" height="1.8" fill="#2f8fe6" opacity="0.6"/>
<rect x="383" y="499" width="1" height="29" fill="#e2e2e2"/>
<!-- regen logo -->
<circle cx="404.6" cy="513.6" r="12.1" fill="url(#rgrad)"/>
<clipPath id="rclip"><circle cx="404.6" cy="513.6" r="8.6"/></clipPath>
<circle cx="404.6" cy="513.6" r="8.6" fill="#fff"/>
<g clip-path="url(#rclip)" stroke="#2c98d8" stroke-width="0.9" fill="none">
<path d="M378.2,525.6 L402.2,501.6 M378.2,501.6 L402.2,525.6 M383.0,525.6 L407.0,501.6 M383.0,501.6 L407.0,525.6 M387.8,525.6 L411.8,501.6 M387.8,501.6 L411.8,525.6 M392.6,525.6 L416.6,501.6 M392.6,501.6 L416.6,525.6 M397.4,525.6 L421.4,501.6 M397.4,501.6 L421.4,525.6 M402.2,525.6 L426.2,501.6 M402.2,501.6 L426.2,525.6 M407.0,525.6 L431.0,501.6 M407.0,501.6 L431.0,525.6"/>
</g>
<rect x="419.2" y="499.4" width="1.3" height="26.3" fill="#3ab3dc"/>
<text x="422.6" y="511.9" font-size="9.9" fill="#1f6fc8" stroke="#1f6fc8" stroke-width="0.45" textLength="59.3" lengthAdjust="spacingAndGlyphs">Regenerative</text>
<text x="422.6" y="522.6" font-size="9.6" fill="#29b0d8" stroke="#29b0d8" stroke-width="0.35" textLength="72.8" lengthAdjust="spacingAndGlyphs">Matrix Therapy™</text>

<g font-size="9.8" fill="#eef1f6" text-anchor="middle">
<text x="383.6" y="546.7">Source: Wu et al., World J Stem Cells, 2023.</text>
<text x="384.1" y="558.1">*Regenerative Matrix Therapy™ shares foundational similarities</text>
<text x="384.2" y="569.6">with the studied treatment. Individual results vary.</text>
</g>

</svg>
</body></html>
